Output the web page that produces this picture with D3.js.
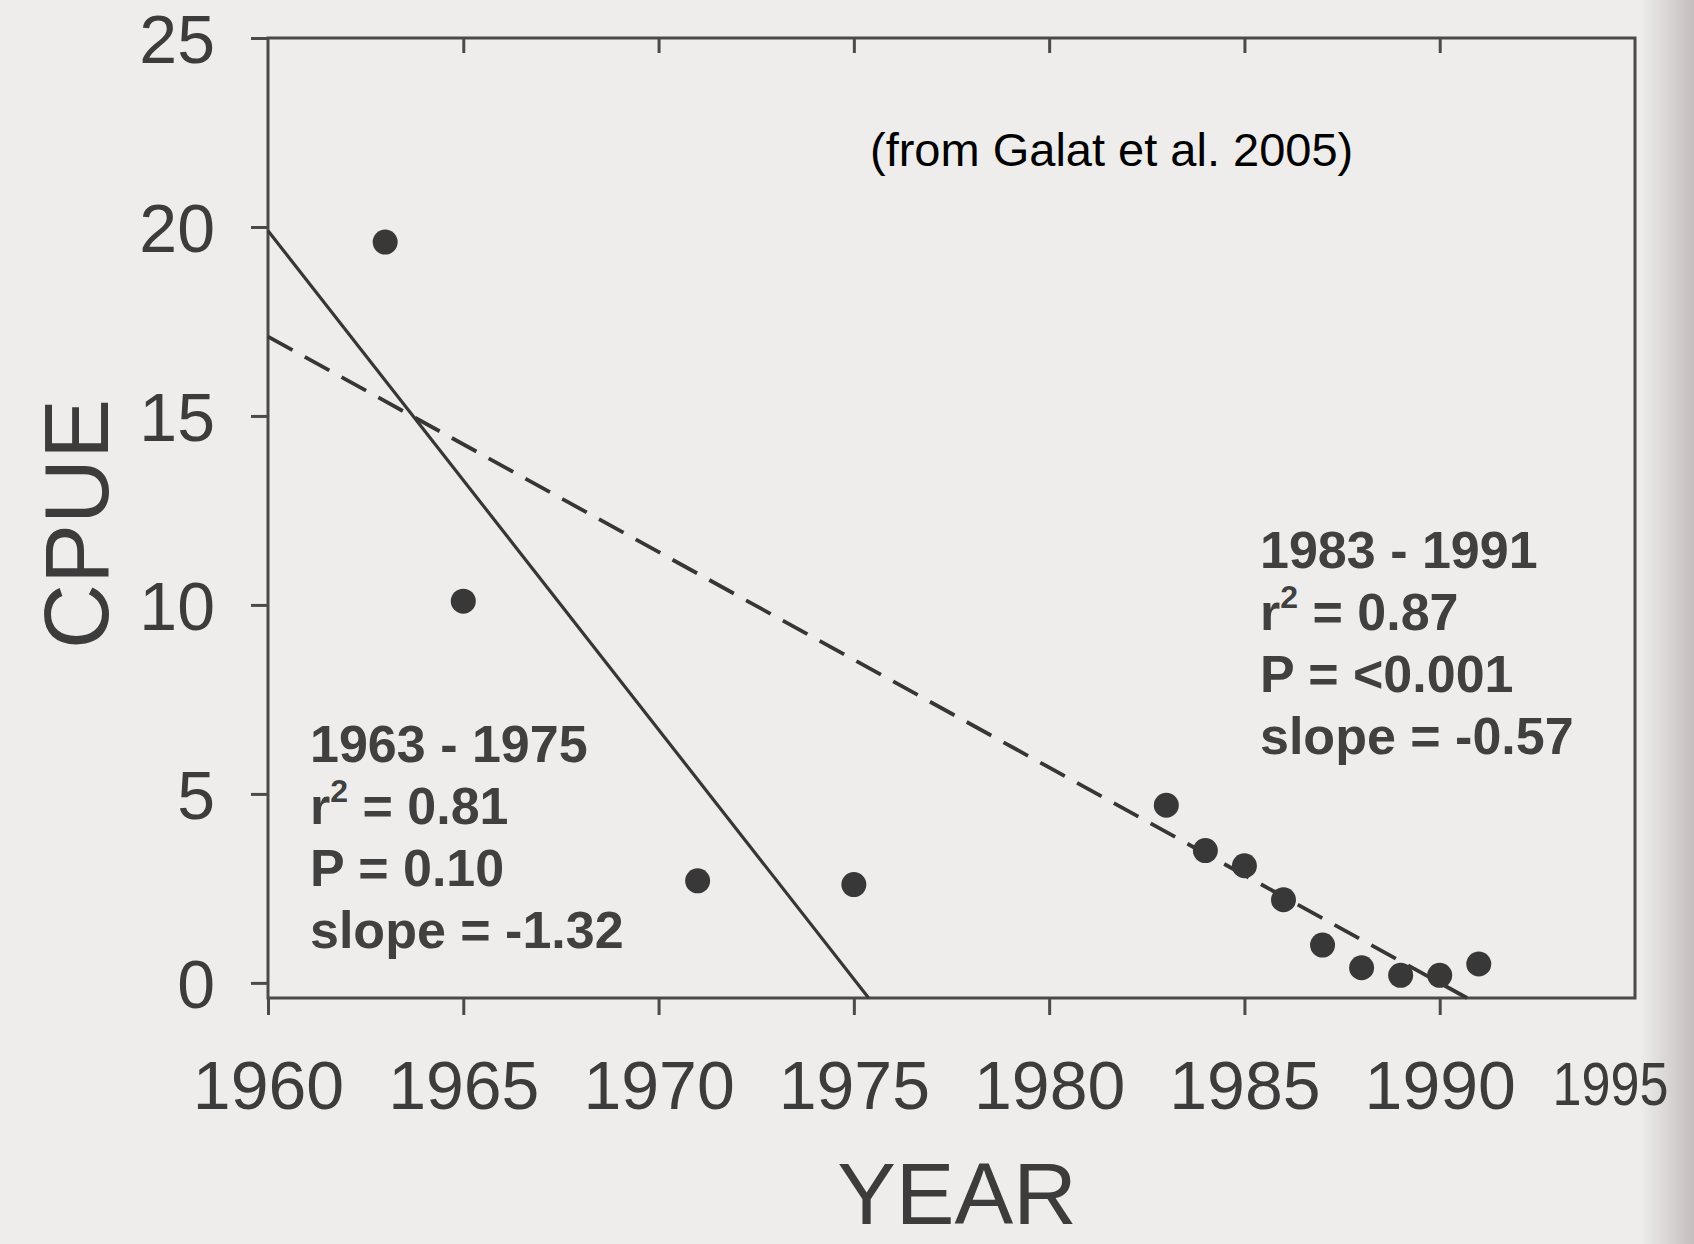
<!DOCTYPE html>
<html>
<head>
<meta charset="utf-8">
<script src="https://cdn.jsdelivr.net/npm/d3@7"></script>
<style>
  body { margin: 0; background: #eeedeb; }
  svg { display: block; }
</style>
</head>
<body>
<div class="res"></div>
<script>
// Data
const yearsEarly = [1963, 1965, 1971, 1975];
const cpueEarly = [19.6, 10.1, 2.7, 2.6];
const yearsLate = [1983, 1984, 1985, 1986, 1987, 1988, 1989, 1990, 1991];
const cpueLate = [4.7, 3.5, 3.1, 2.2, 1.0, 0.4, 0.2, 0.2, 0.5];

// fitted lines: start value at 1960 and slope
const fitStart = [19.9, 17.1];
const fitSlope = [-1.32, -0.57];

const xTicks = [1960, 1965, 1970, 1975, 1980, 1985, 1990, 1995];
const yTicks = [0, 5, 10, 15, 20, 25];

const statsEarly = ['1963 - 1975', 'r2 = 0.81', 'P = 0.10', 'slope = -1.32'];
const statsLate = ['1983 - 1991', 'r2 = 0.87', 'P = <0.001', 'slope = -0.57'];

const W = 1694, H = 1244;
const margin = { top: 38, right: 59, bottom: 246, left: 268 };
const width = W - margin.left - margin.right;
const height = H - margin.top - margin.bottom;
const font = "'Liberation Sans', Arial, sans-serif";

const svg = d3.select('div.res').append('svg')
    .attr('width', W)
    .attr('height', H);

// page curl shading on the right
const defs = svg.append('defs');
const grad = defs.append('linearGradient').attr('id', 'curl')
    .attr('x1', 0).attr('x2', 1).attr('y1', 0).attr('y2', 0);
grad.append('stop').attr('offset', 0).attr('stop-color', '#eeedeb');
grad.append('stop').attr('offset', 1).attr('stop-color', '#c4bebe');
svg.append('rect').attr('x', 1640).attr('y', 0).attr('width', 54).attr('height', H)
    .attr('fill', 'url(#curl)');

const g = svg.append('g').attr('transform', `translate(${margin.left},${margin.top})`);

const x = d3.scaleLinear().domain([1960, 1995]).range([0, width]);
const y = d3.scaleLinear().domain([-0.4, 25]).range([height, 0]);

const lineColor = '#363636';

// frame
g.append('rect')
    .attr('x', x(1960)).attr('y', y(25))
    .attr('width', x(1995) - x(1960))
    .attr('height', y(-0.4) - y(25))
    .attr('fill', 'none')
    .attr('stroke', '#4a4a4a')
    .attr('stroke-width', 3);

// left axis
const yAxis = d3.axisLeft(y).tickValues(yTicks).tickSize(17).tickPadding(36);
g.append('g').call(yAxis)
    .call(s => s.select('.domain').remove())
    .call(s => s.selectAll('line').attr('stroke', '#4a4a4a').attr('stroke-width', 3))
    .call(s => s.selectAll('text').attr('fill', '#3c3c3c')
        .style('font-family', font).style('font-size', '68px').attr('dy', '0.36em'));

// bottom axis
const xAxis = d3.axisBottom(x).tickValues(xTicks).tickSize(17).tickPadding(46)
    .tickFormat(d3.format('d'));
g.append('g').attr('transform', `translate(0,${height})`).call(xAxis)
    .call(s => s.select('.domain').remove())
    .call(s => s.selectAll('line').attr('stroke', '#4a4a4a').attr('stroke-width', 3)
        .attr('display', d => d === 1995 ? 'none' : null))
    .call(s => s.selectAll('text').attr('fill', '#3c3c3c')
        .style('font-family', font).style('font-size', '68px'))
    // last label sits at the page edge (squeezed by the curl)
    .call(s => s.selectAll('text').filter(d => d === 1995)
        .style('font-size', '62px')
        .attr('text-anchor', 'end').attr('x', 1668 - margin.left - x(1995))
        .attr('textLength', 116).attr('lengthAdjust', 'spacingAndGlyphs'));

// top ticks pointing inward
g.append('g').attr('transform', `translate(0,${y(25)})`)
    .call(d3.axisBottom(x).tickValues(xTicks.slice(1, -1)).tickSize(15).tickFormat(''))
    .call(s => s.select('.domain').remove())
    .call(s => s.selectAll('line').attr('stroke', '#4a4a4a').attr('stroke-width', 3));

// regression lines, from 1960 down to the x axis
const fitLines = fitStart.map((b, i) => {
    const xEnd = 1960 + (b - (-0.4)) / -fitSlope[i];
    return [[1960, b], [xEnd, -0.4]];
});
const line = d3.line().x(d => x(d[0])).y(d => y(d[1]));

g.append('path').datum(fitLines[0])
    .attr('d', line)
    .attr('fill', 'none')
    .attr('stroke', lineColor)
    .attr('stroke-width', 3.2);

g.append('path').datum(fitLines[1])
    .attr('d', line)
    .attr('fill', 'none')
    .attr('stroke', lineColor)
    .attr('stroke-width', 3.8)
    .attr('stroke-dasharray', '28,14');

// points
const pts = yearsEarly.map((yr, i) => ({ yr, v: cpueEarly[i] }))
    .concat(yearsLate.map((yr, i) => ({ yr, v: cpueLate[i] })));
g.selectAll('circle').data(pts).enter().append('circle')
    .attr('cx', d => x(d.yr))
    .attr('cy', d => y(d.v))
    .attr('r', 12.5)
    .attr('fill', '#383838');

// stats text blocks
function statBlock(lines, px, py) {
    const t = g.append('g');
    lines.forEach((s, i) => {
        const txt = t.append('text')
            .attr('x', px)
            .attr('y', py + i * 62)
            .attr('fill', '#404040')
            .style('font-family', font)
            .style('font-size', '52px')
            .style('font-weight', 'bold');
        if (s.startsWith('r2')) {
            txt.append('tspan').text('r');
            txt.append('tspan').text('2').attr('dy', -22).style('font-size', '32px');
            txt.append('tspan').text(s.slice(2)).attr('dy', 22);
        } else {
            txt.text(s);
        }
    });
}
statBlock(statsEarly, 310 - margin.left, 762 - margin.top);
statBlock(statsLate, 1260 - margin.left, 568 - margin.top);

// source note
svg.append('text')
    .attr('x', 870).attr('y', 166)
    .attr('fill', '#000')
    .style('font-family', font)
    .style('font-size', '47px')
    .text('(from Galat et al. 2005)');

// axis titles
svg.append('text')
    .attr('x', 957).attr('y', 1224)
    .attr('text-anchor', 'middle')
    .attr('fill', '#3c3c3c')
    .style('font-family', font)
    .style('font-size', '88px')
    .text('YEAR');

svg.append('text')
    .attr('transform', 'translate(108,524) rotate(-90)')
    .attr('text-anchor', 'middle')
    .attr('fill', '#3c3c3c')
    .style('font-family', font)
    .style('font-size', '90px')
    .text('CPUE');
</script>
</body>
</html>
